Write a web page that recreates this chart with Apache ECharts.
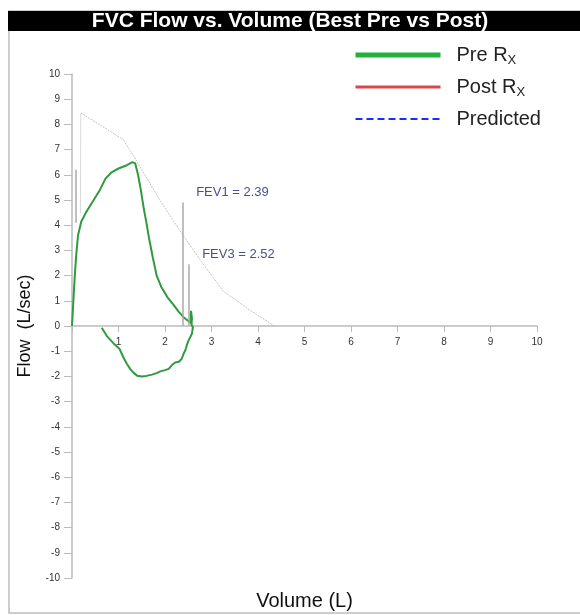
<!DOCTYPE html>
<html>
<head>
<meta charset="utf-8">
<script src="https://cdn.jsdelivr.net/npm/echarts@6/dist/echarts.min.js"></script>
<style>
  html, body { margin: 0; padding: 0; background: #fff; }
  #chart { width: 580px; height: 615px; }
</style>
</head>
<body>
<div id="chart"></div>
<script>
// Pre Rx loop: expiratory limb, then inspiratory limb (volume L, flow L/sec)
const preVolume = [0, 0.03, 0.06, 0.09, 0.13, 0.2, 0.3, 0.45, 0.6, 0.72, 0.85, 1.0, 1.18, 1.3, 1.36, 1.42, 1.48, 1.54, 1.6, 1.66, 1.74, 1.82, 1.92, 2.05, 2.18, 2.3, 2.4, 2.5, 2.55, 2.56, 2.58, 2.57, 2.6,
  2.58, 2.54, 2.5, 2.47, 2.44, 2.4, 2.36, 2.3, 2.22, 2.15, 2.08, 2.0, 1.9, 1.82, 1.72, 1.6, 1.5, 1.4, 1.32, 1.25, 1.18, 1.12, 1.07, 1.02, 0.96, 0.9, 0.85, 0.8, 0.75, 0.7, 0.64];
const preFlow = [0, 1.0, 2.0, 2.8, 3.6, 4.15, 4.5, 4.95, 5.4, 5.85, 6.1, 6.25, 6.38, 6.5, 6.45, 6.0, 5.4, 4.7, 4.1, 3.45, 2.7, 2.0, 1.55, 1.15, 0.85, 0.55, 0.35, 0.2, 0.12, 0.6, 0.3, 0.05, -0.05,
  -0.3, -0.45, -0.6, -0.75, -0.95, -1.1, -1.3, -1.42, -1.45, -1.55, -1.7, -1.75, -1.8, -1.87, -1.93, -1.98, -2.0, -1.97, -1.85, -1.7, -1.5, -1.3, -1.1, -0.9, -0.8, -0.7, -0.6, -0.5, -0.4, -0.25, -0.07];

// Predicted curve
const predVolume = [0.18, 0.19, 1.1, 1.35, 1.9, 2.37, 2.82, 3.25, 3.76, 4.35];
const predFlow = [4.5, 8.46, 7.4, 6.67, 4.96, 3.65, 2.46, 1.39, 0.71, 0];

// FEV markers
const fevLabels = ['FEV1 = 2.39', 'FEV3 = 2.52'];
const fevVolume = [2.39, 2.52];
const fevTop = [4.9, 2.45];

const seriesNames = ['Pre Rx', 'Post Rx', 'Predicted'];
const legendText = {
  'Pre Rx': '{t|Pre R}{s|X}',
  'Post Rx': '{t|Post R}{s|X}',
  'Predicted': '{t|Predicted}'
};

const font = 'Liberation Sans, Arial, sans-serif';
const zip = (xs, ys) => xs.map((v, i) => [v, ys[i]]);

const fevLines = fevVolume.map((v, i) => [{coord: [v, 0]}, {coord: [v, fevTop[i]]}]);
fevLines.push([{coord: [0.07, 4.1]}, {coord: [0.07, 6.2]}]);

const noSymbol = {color: 'rgba(0,0,0,0)', borderColor: 'rgba(0,0,0,0)', borderWidth: 0};

const myChart = echarts.init(document.getElementById('chart'));
myChart.setOption({
  animation: false,
  textStyle: {fontFamily: font},
  title: {
    text: 'FVC Flow vs. Volume (Best Pre vs Post)',
    left: 'center',
    top: 11,
    z: 10,
    padding: 0,
    textStyle: {color: '#fff', fontSize: 21, fontWeight: 'bold', fontFamily: font, lineHeight: 20}
  },
  graphic: [
    {type: 'rect', z: 0, shape: {x: 9, y: 11, width: 580, height: 602}, style: {fill: 'none', stroke: '#bdbdbd', lineWidth: 1.5}},
    {type: 'rect', z: 1, shape: {x: 8, y: 11, width: 575, height: 20}, style: {fill: '#000'}}
  ],
  legend: {
    orient: 'vertical',
    left: 348,
    top: 40,
    itemWidth: 85,
    itemHeight: 20,
    itemGap: 10,
    selectedMode: false,
    formatter: name => legendText[name],
    textStyle: {
      rich: {
        t: {fontSize: 20, color: '#222', fontFamily: font, padding: [0, 0, 0, 11]},
        s: {fontSize: 13, color: '#222', fontFamily: font, padding: [11, 0, 0, 0]}
      }
    },
    data: [
      {name: seriesNames[0], itemStyle: noSymbol, lineStyle: {color: '#22b23a', width: 5}},
      {name: seriesNames[1], itemStyle: noSymbol, lineStyle: {color: '#d9474a', width: 3}},
      {name: seriesNames[2], itemStyle: noSymbol, lineStyle: {color: '#1c2cff', width: 2, type: [7, 4]}}
    ]
  },
  grid: {left: 72, right: 43, top: 74, bottom: 37, containLabel: false, outerBoundsMode: 'none'},
  xAxis: [{
    type: 'value',
    min: 0, max: 10, interval: 1,
    position: 'bottom',
    offset: -252,
    axisLine: {onZero: false, lineStyle: {color: '#bbb', width: 1.5}},
    axisTick: {length: 6, lineStyle: {color: '#bbb'}},
    axisLabel: {fontSize: 10, color: '#333', margin: 11, formatter: v => v === 0 ? '' : v},
    splitLine: {show: false}
  }, {
    type: 'value',
    min: 0, max: 10,
    position: 'bottom',
    axisLine: {show: false, onZero: false},
    axisTick: {show: false},
    axisLabel: {show: false},
    splitLine: {show: false},
    name: 'Volume (L)',
    nameLocation: 'middle',
    nameGap: 13,
    nameTextStyle: {fontSize: 20, color: '#111', fontFamily: font}
  }],
  yAxis: {
    type: 'value',
    min: -10, max: 10, interval: 1,
    axisLine: {show: true, onZero: false, lineStyle: {color: '#bbb', width: 1.5}},
    axisTick: {show: true, length: 8, lineStyle: {color: '#bbb'}},
    axisLabel: {fontSize: 10, color: '#333', margin: 12},
    splitLine: {show: false},
    name: 'Flow  (L/sec)',
    nameLocation: 'middle',
    nameGap: 38,
    nameTextStyle: {fontSize: 18, color: '#111', fontFamily: font}
  },
  series: [
    {
      name: seriesNames[0],
      type: 'line',
      symbol: 'none',
      z: 3,
      data: zip(preVolume, preFlow),
      color: '#2f9a3f',
      lineStyle: {color: '#2f9a3f', width: 2},
      markLine: {
        silent: true,
        symbol: 'none',
        lineStyle: {color: '#aaa', width: 1.5, type: 'solid'},
        label: {show: false},
        data: fevLines
      },
      markPoint: {
        silent: true,
        symbol: 'circle',
        symbolSize: 0,
        label: {
          show: true,
          position: 'right',
          offset: [8, -10],
          fontSize: 13,
          color: '#4a4f8c',
          fontFamily: font,
          formatter: p => p.name
        },
        data: fevVolume.map((v, i) => ({name: fevLabels[i], coord: [v, fevTop[i]]}))
      }
    },
    {
      name: seriesNames[1],
      type: 'line',
      symbol: 'none',
      color: '#d9474a',
      data: []
    },
    {
      name: seriesNames[2],
      type: 'line',
      symbol: 'none',
      z: 2,
      data: zip(predVolume, predFlow),
      color: '#b0b0b0',
      lineStyle: {color: '#b0b0b0', width: 1, type: 'dotted'}
    }
  ]
});
</script>
</body>
</html>
